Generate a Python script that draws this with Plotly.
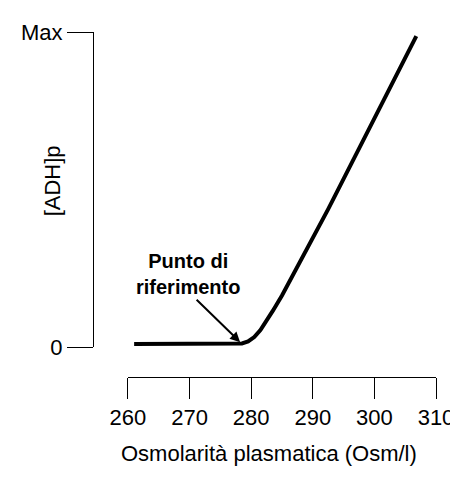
import plotly.graph_objects as go

# Data
osm = [261, 270, 277, 278.5, 279.5, 280.5, 281.5, 282.5, 283.5, 285, 292.5, 306.8]
adh = [1, 1, 1, 1.2, 1.8, 3.2, 5.4, 8.2, 11.5, 16.4, 43.8, 98.7]

x_ticks = [260, 270, 280, 290, 300, 310]
x_tick_labels = ["260", "270", "280", "290", "300", "310"]
y_ticks = [0, 100]
y_tick_labels = ["0", "Max"]

FONT = "Arial, Liberation Sans, sans-serif"

W, H = 458, 477
L, R, T, B = 85, 438, 22, 369
pw, ph = R - L, B - T


def px_x(p):
    return (p - L) / pw


def px_y(p):
    return (B - p) / ph


fig = go.Figure()
fig.add_trace(go.Scatter(x=osm, y=adh, mode="lines",
                         line=dict(color="black", width=4),
                         hoverinfo="skip", showlegend=False))

# set point annotation
fig.add_annotation(x=278.2, y=1.6, ax=270.9, ay=15.5,
                   xref="x", yref="y", axref="x", ayref="y",
                   text="", showarrow=True, arrowhead=2, arrowsize=1,
                   arrowwidth=2, arrowcolor="black")
fig.add_annotation(x=269.8, y=23.3, xref="x", yref="y",
                   text="<b>Punto di<br>riferimento</b>", showarrow=False,
                   font=dict(family=FONT, size=20, color="black"),
                   align="center")

# axis titles as annotations
fig.add_annotation(x=px_x(43), y=px_y(172), xref="paper", yref="paper",
                   xanchor="center", yanchor="middle",
                   text="[ADH]p", showarrow=False, textangle=-90,
                   font=dict(family=FONT, size=22, color="black"))
fig.add_annotation(x=px_x(266), y=px_y(446), xref="paper", yref="paper",
                   xanchor="center", yanchor="middle",
                   text="Osmolarità plasmatica (Osm/l)", showarrow=False,
                   font=dict(family=FONT, size=22, color="black"))

fig.update_layout(
    width=W, height=H,
    margin=dict(l=L, r=W - R, t=T, b=H - B, pad=0),
    plot_bgcolor="white", paper_bgcolor="white",
    font=dict(family=FONT, size=22, color="black"),
    xaxis=dict(range=[260, 310], domain=[px_x(121), 1],
               anchor="free", position=0,
               tickvals=x_ticks, ticktext=x_tick_labels,
               showline=True, linecolor="black", linewidth=1,
               ticks="outside", ticklen=21, tickwidth=1, tickcolor="black",
               showgrid=False, zeroline=False,
               tickfont=dict(size=22)),
    yaxis=dict(range=[0, 100], domain=[px_y(339), 1],
               anchor="free", position=0,
               tickvals=y_ticks, ticktext=y_tick_labels,
               showline=True, linecolor="black", linewidth=1,
               ticks="outside", ticklen=26, tickwidth=1, tickcolor="black",
               showgrid=False, zeroline=False,
               tickfont=dict(size=22)),
)

fig.write_html("out.html")
